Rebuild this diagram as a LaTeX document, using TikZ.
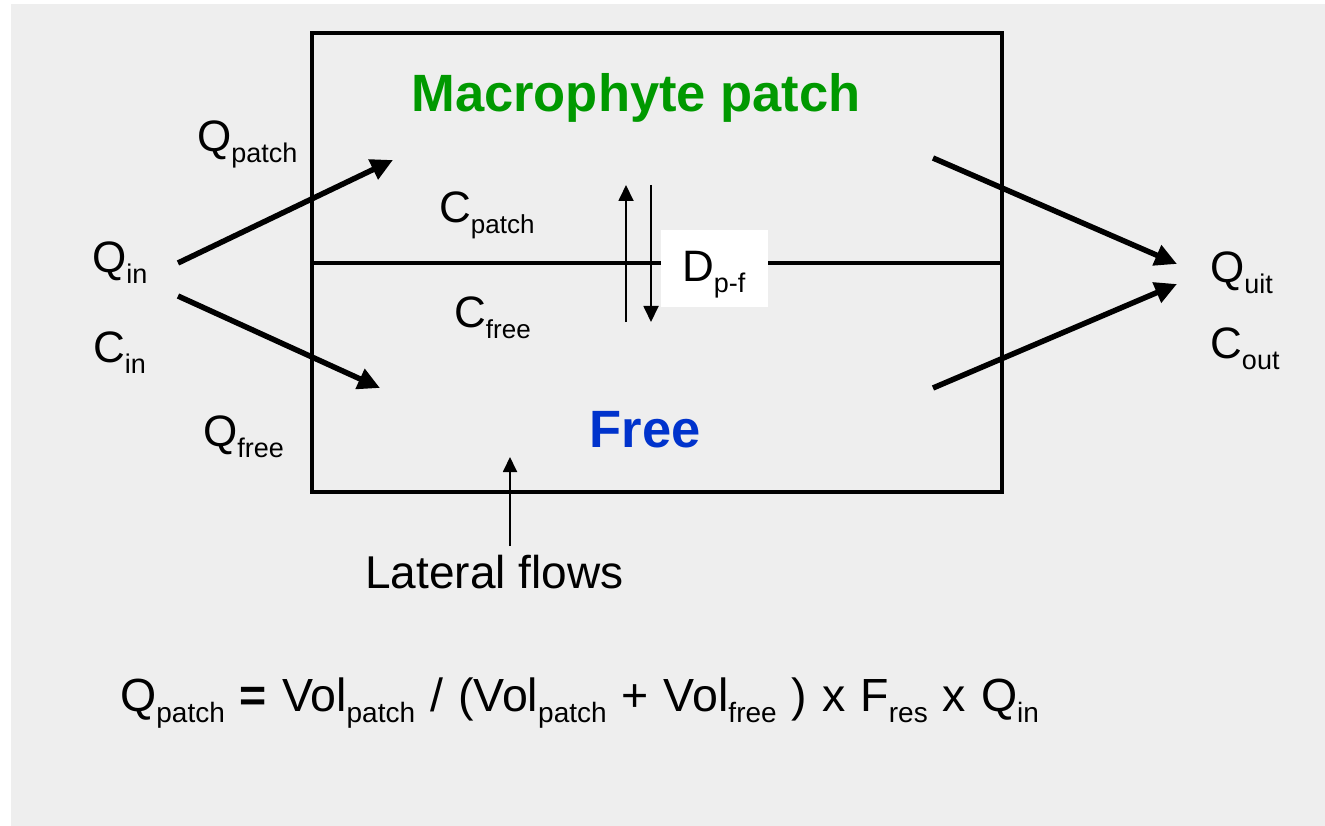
\documentclass[tikz,border=0pt]{standalone}
\usepackage{fontspec}
\setmainfont{Liberation Sans}
\usepackage{xcolor}
\usetikzlibrary{arrows.meta}

\definecolor{bggray}{HTML}{EEEEEE}
\definecolor{patchgreen}{HTML}{009900}
\definecolor{freeblue}{HTML}{0033CC}

% quantity with a lowered subscript
\newcommand{\qsub}[3][27]{#2\raisebox{-0.25em}{\fontsize{#1}{#1}\selectfont #3}}

\begin{document}
\begin{tikzpicture}[
        x=1pt, y=-1pt,
        >=Triangle,
        lbl/.style={
            inner sep=0pt,
            anchor=base west,
            font=\fontsize{44}{48}\selectfont
        },
        title/.style={
            inner sep=0pt,
            anchor=base,
            font=\fontsize{52.5}{56}\selectfont\bfseries
        },
        flow/.style={
            line width=5.5pt,
            -{Triangle[length=22pt,width=21pt]}
        },
        exch/.style={
            line width=1.8pt,
            -{Triangle[length=16pt,width=15pt]}
        }
    ]

        \useasboundingbox (0,0) rectangle (1325,826);
        \fill[bggray] (11,4) rectangle (1325,826);

        % compartments
        \draw[line width=3.2pt] (312,33) rectangle (1002,492);
        \draw[line width=3.2pt] (312,263) -- (1002,263);

        \node[title, text=patchgreen] (mtitle) at (636,112) {Macrophyte patch};
        \node[title, text=freeblue]   (ftitle) at (645,447) {Free};

        % labels
        \node[lbl] (qin)    at (92,273)   {\qsub{Q}{in}};
        \node[lbl] (cin)    at (93,362)   {\qsub{C}{in}};
        \node[lbl] (qpatch) at (197,152)  {\qsub{Q}{patch}};
        \node[lbl] (qfree)  at (203,446)  {\qsub{Q}{free}};
        \node[lbl] (cpatch) at (439,223)  {\qsub[26]{C}{patch}};
        \node[lbl] (cfree)  at (454,327)  {\qsub[26]{C}{free}};
        \node[lbl] (quit)   at (1210,283) {\qsub{Q}{uit}};
        \node[lbl] (cout)   at (1210,358) {\qsub{C}{out}};
        \node[lbl, font=\fontsize{46}{50}\selectfont] (lat) at (365,588) {Lateral flows};

        % exchange patch - free
        \coordinate (xup0) at (626,322);
        \coordinate (xup1) at (626,185);
        \coordinate (xdn0) at (651,185);
        \coordinate (xdn1) at (651,322);
        \draw[exch] (xup0) -- (xup1);
        \draw[exch] (xdn0) -- (xdn1);
        \node[fill=white, minimum width=107pt, minimum height=77pt, inner sep=0pt] (dbox) at (714.5,268.5) {};
        \node[lbl] (dpf) at (682,282) {\qsub{D}{p-f}};

        % inflow and outflow
        \coordinate (inA) at (178,263);
        \coordinate (inB) at (178,296);
        \coordinate (tipP) at (393,160);
        \coordinate (tipF) at (380,388);
        \coordinate (outP) at (933,158);
        \coordinate (outF) at (933,388);
        \coordinate (tipU) at (1177,264);
        \coordinate (tipL) at (1177,284);
        \draw[flow] (inA) -- (tipP);
        \draw[flow] (inB) -- (tipF);
        \draw[flow] (outP) -- (tipU);
        \draw[flow] (outF) -- (tipL);

        % lateral flows
        \coordinate (latTip) at (510,457);
        \draw[exch, -{Triangle[length=15pt,width=14pt]}] (510,546) coordinate (latTail) -- (latTip);

        \node[lbl, font=\fontsize{46.5}{50}\selectfont] (formula) at (120,711)
            {\spaceskip=15pt\relax
             \qsub[28]{Q}{patch} \textbf{=} \qsub[28]{Vol}{patch} / (\qsub[28]{Vol}{patch} + \qsub[28]{Vol}{free} ) x \qsub[28]{F}{res} x \qsub[28]{Q}{in}};

    \end{tikzpicture}
\end{document}
